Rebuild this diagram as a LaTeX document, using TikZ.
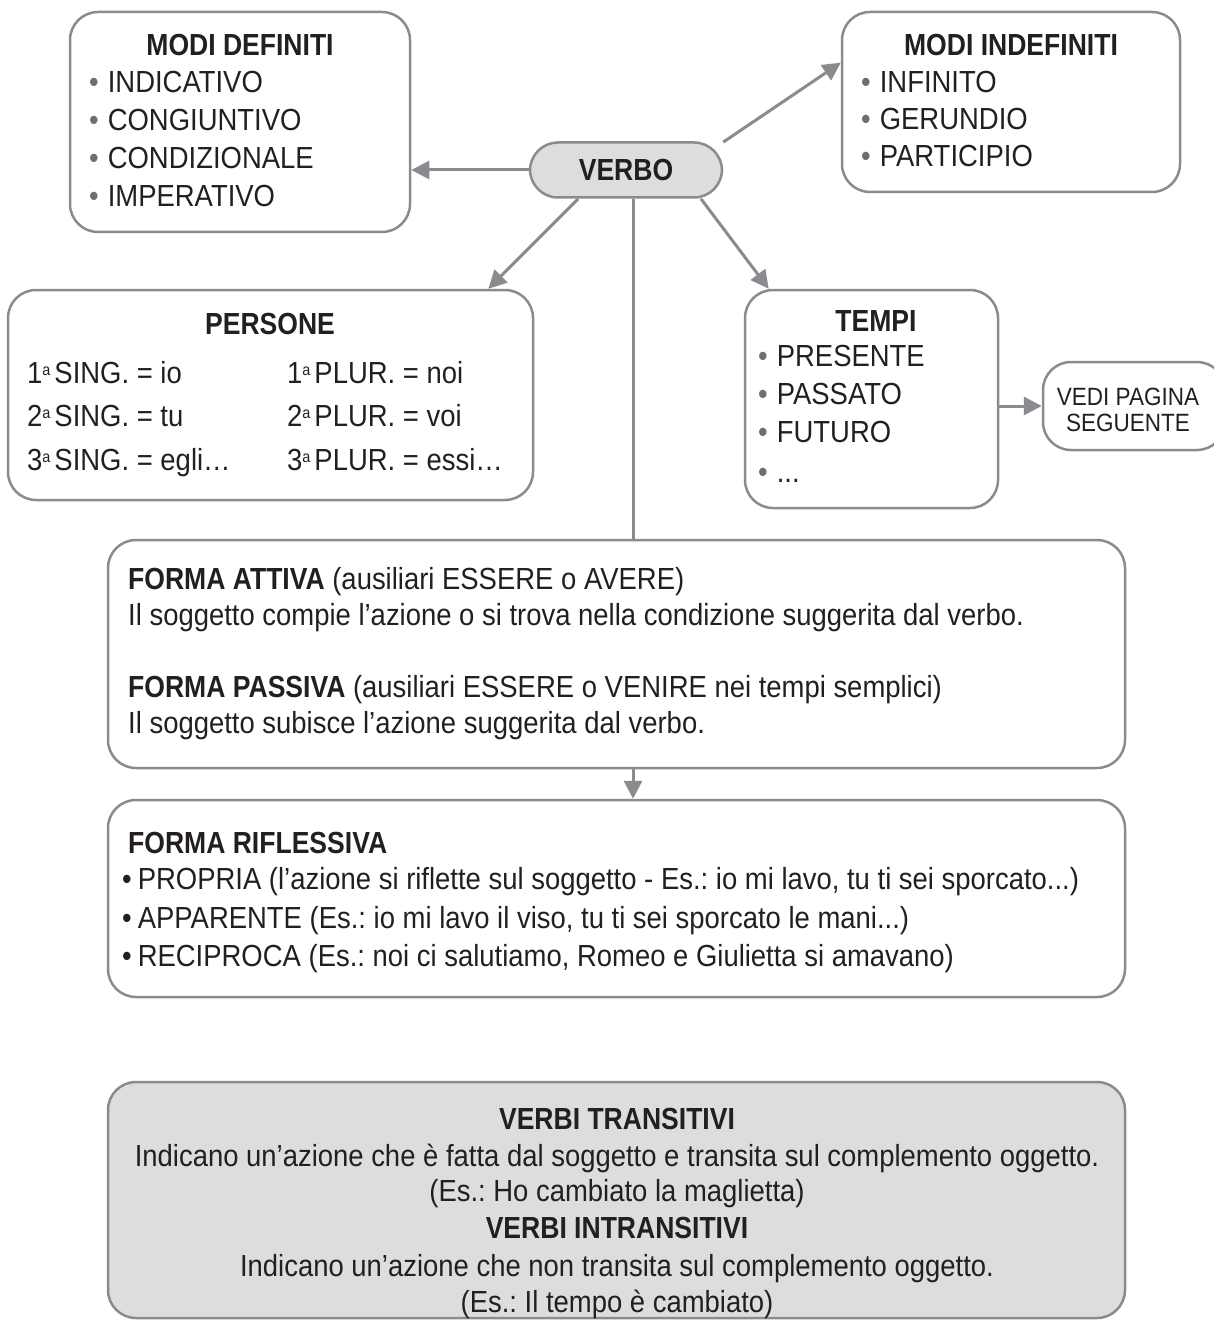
\documentclass[tikz,border=0pt]{standalone}
\usepackage{fontspec}
\setmainfont{Liberation Sans}[FakeStretch=0.9, BoldFeatures={FakeStretch=0.87}]
\usetikzlibrary{arrows.meta}
\frenchspacing
\definecolor{ln}{HTML}{8A8B8E}
\definecolor{fl}{HTML}{DCDDDF}
\definecolor{tx}{HTML}{231F20}
\definecolor{bl}{HTML}{6D6E71}
\newcommand{\bul}{{\color{bl}\textbullet}\hspace{9pt}}
\newcommand{\ord}[1]{#1\raisebox{8pt}{\fontsize{16}{16}\selectfont a}\hspace{4pt}}
\tikzset{
  box/.style={draw=ln, line width=2.5pt, rounded corners=28pt, inner sep=0pt},
  conn/.style={draw=ln, line width=3pt},
  arr/.style={conn, -{Triangle[length=18pt,width=18pt]}},
  txt/.style={inner sep=0pt, anchor=base west, text=tx, font=\fontsize{30.5}{36}\selectfont},
  ttl/.style={inner sep=0pt, anchor=base, text=tx, font=\fontsize{30.5}{36}\selectfont\bfseries},
  ctr/.style={inner sep=0pt, anchor=base, text=tx, font=\fontsize{30.5}{36}\selectfont},
  sml/.style={inner sep=0pt, anchor=base, text=tx, font=\fontsize{25}{30}\selectfont},
}
\begin{document}
\begin{tikzpicture}[x=1pt,y=-1pt]
\useasboundingbox (0,0) rectangle (1213,1324);
% boxes
\node[box, minimum width=340pt, minimum height=220pt] (md) at (240,122) {};
\node[box, minimum width=338pt, minimum height=180pt] (mi) at (1011,102) {};
\node[box, fill=fl, minimum width=192pt, minimum height=55pt] (verbo) at (626,170) {};
\node[inner sep=0pt, text=tx, font=\fontsize{30.5}{36}\selectfont\bfseries] (verbot) at (verbo.center) {VERBO};
\node[box, minimum width=525pt, minimum height=210pt] (pe) at (270.5,395) {};
\node[box, minimum width=253pt, minimum height=218pt] (te) at (871.5,399) {};
\node[box, minimum width=182pt, minimum height=88pt] (vs) at (1134,406) {};
\node[box, minimum width=1017pt, minimum height=228pt] (fa) at (616.5,654) {};
\node[box, minimum width=1017pt, minimum height=197pt] (fr) at (616.5,898.5) {};
\node[box, fill=fl, minimum width=1017pt, minimum height=236pt] (vt) at (616.5,1200) {};
% connectors
\draw[arr] (verbo.west) -- (verbo.west -| md.east);
\draw[arr] (verbo.16) -- (mi.167);
\draw[arr] (verbo.211) -- (pe.26);
\draw[arr] (verbo.339) -- (te.133);
\draw[conn] ([xshift=7pt]verbo.south) -- ([xshift=7pt]verbo.south |- fa.north);
\draw[arr] (te.east |- vs.west) -- (vs.west);
\draw[arr] ([xshift=16.5pt]fa.south) -- ([xshift=16.5pt]fr.north);
% MODI DEFINITI
\node[ttl] (mdt) at (240,56) {MODI DEFINITI};
\node[txt] (md1) at (89,93) {\bul INDICATIVO};
\node[txt] (md2) at (89,131) {\bul CONGIUNTIVO};
\node[txt] (md3) at (89,169) {\bul CONDIZIONALE};
\node[txt] (md4) at (89,207) {\bul IMPERATIVO};
% MODI INDEFINITI
\node[ttl] (mit) at (1011,56) {MODI INDEFINITI};
\node[txt] (mi1) at (861,93) {\bul INFINITO};
\node[txt] (mi2) at (861,130) {\bul GERUNDIO};
\node[txt] (mi3) at (861,167) {\bul PARTICIPIO};
% PERSONE
\node[ttl] (pet) at (270,334) {PERSONE};
\node[txt] (p1) at (27,383) {\ord{1}SING. = io};
\node[txt] (p2) at (27,426) {\ord{2}SING. = tu};
\node[txt] (p3) at (27,470) {\ord{3}SING. = egli\ldots};
\node[txt] (p4) at (287,383) {\ord{1}PLUR. = noi};
\node[txt] (p5) at (287,426) {\ord{2}PLUR. = voi};
\node[txt] (p6) at (287,470) {\ord{3}PLUR. = essi\ldots};
% TEMPI
\node[ttl] (tet) at (876,331) {TEMPI};
\node[txt] (t1) at (758,366) {\bul PRESENTE};
\node[txt] (t2) at (758,404) {\bul PASSATO};
\node[txt] (t3) at (758,442) {\bul FUTURO};
\node[txt] (t4) at (758,482) {\bul ...};
% VEDI
\node[sml] (vs1) at (1128,405) {VEDI PAGINA};
\node[sml] (vs2) at (1128,431) {SEGUENTE};
% FORMA
\node[txt] (f1) at (128,589) {\textbf{FORMA ATTIVA} (ausiliari ESSERE o AVERE)};
\node[txt] (f2) at (128,625) {Il soggetto compie l’azione o si trova nella condizione suggerita dal verbo.};
\node[txt] (f3) at (128,697) {\textbf{FORMA PASSIVA} (ausiliari ESSERE o VENIRE nei tempi semplici)};
\node[txt] (f4) at (128,733) {Il soggetto subisce l’azione suggerita dal verbo.};
% RIFLESSIVA
\node[txt] (r0) at (128,853) {\textbf{FORMA RIFLESSIVA}};
\node[txt] (r1) at (122,889) {\textbullet\hspace{6pt}PROPRIA (l’azione si riflette sul soggetto - Es.: io mi lavo, tu ti sei sporcato...)};
\node[txt] (r2) at (122,928) {\textbullet\hspace{6pt}APPARENTE (Es.: io mi lavo il viso, tu ti sei sporcato le mani...)};
\node[txt] (r3) at (122,966) {\textbullet\hspace{6pt}RECIPROCA (Es.: noi ci salutiamo, Romeo e Giulietta si amavano)};
% TRANSITIVI
\node[ttl] (v1) at (617,1129) {VERBI TRANSITIVI};
\node[ctr] (v2) at (617,1166) {Indicano un’azione che è fatta dal soggetto e transita sul complemento oggetto.};
\node[ctr] (v3) at (617,1201) {(Es.: Ho cambiato la maglietta)};
\node[ttl] (v4) at (617,1238) {VERBI INTRANSITIVI};
\node[ctr] (v5) at (617,1276) {Indicano un’azione che non transita sul complemento oggetto.};
\node[ctr] (v6) at (617,1312) {(Es.: Il tempo è cambiato)};
\end{tikzpicture}
\end{document}
